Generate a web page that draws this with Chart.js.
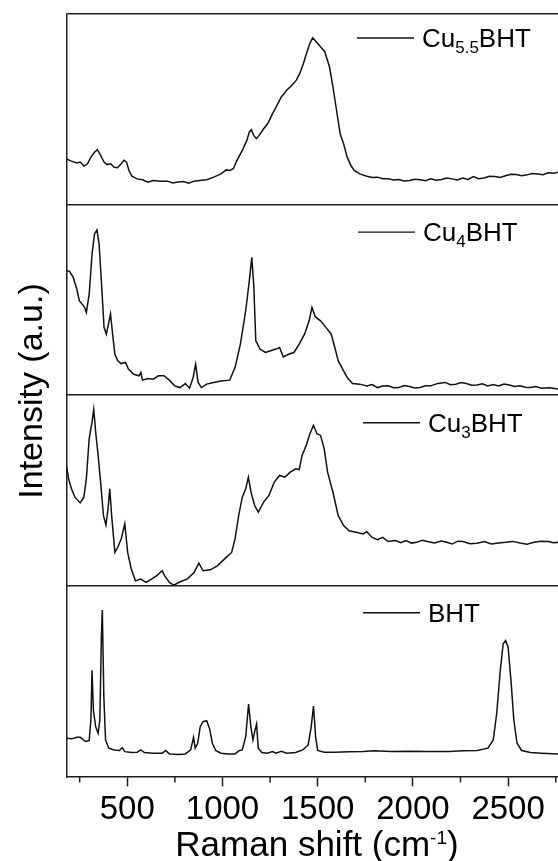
<!DOCTYPE html>
<html>
<head>
<meta charset="utf-8">
<script src="https://cdn.jsdelivr.net/npm/chart.js@4/dist/chart.umd.min.js"></script>
<style>
  html, body { margin: 0; padding: 0; background: #fff; overflow: hidden; }
  #wrap { position: relative; width: 558px; height: 861px; }
</style>
</head>
<body>
<div id="wrap"><canvas id="ramanChart"></canvas></div>
<script>
// Raman shift (cm-1) and intensity (a.u., % of panel height)
var xCu55 = [180,206,235,253,272,291,309,328,343,360,378,393,412,431,449,468,483,496,509,524,552,580,608,636,674,711,739,767,795,823,851,879,917,954,992,1020,1038,1057,1076,1104,1128,1141,1152,1164,1178,1193,1216,1238,1263,1291,1309,1337,1365,1388,1406,1425,1444,1459,1474,1492,1515,1537,1562,1580,1599,1618,1636,1655,1674,1692,1721,1758,1786,1814,1842,1870,1898,1926,1954,1982,2010,2038,2066,2094,2122,2150,2178,2206,2234,2262,2290,2318,2346,2374,2402,2430,2458,2486,2514,2543,2571,2599,2627,2655,2683,2711,2739,2764];
var yCu55 = [24,22.8,21.9,22.3,20.2,21.4,24.9,27.5,28.8,25.8,22.3,21,21.4,19.6,19.3,21.4,23.2,22.3,17.9,14.9,13.5,13,11.8,12.6,12.3,12.3,11.4,11.8,12.1,11.2,12.3,12.6,13,14.4,16.1,18.2,17.9,18.8,23.2,28.4,33.7,38.1,39.3,36.3,34.6,36.3,39.8,42.5,47.7,53,56.5,60,62.6,65.3,68.8,74,80.2,84.6,87.5,85.4,82.8,80.2,72.3,61.8,49.5,37.2,31.9,24.9,20.5,17.9,16.1,14.9,14.2,14.4,13.6,13.5,12.9,13.2,12.4,12.6,13.3,13,12.5,13.5,12.8,13.2,14,13.5,12.9,13.9,13.2,14.7,13.6,14,14.9,14.7,14.2,15.1,15.9,15.8,15.2,15.6,16.3,16.1,15.7,16.7,16.4,17];

var xCu4 = [180,197,216,235,248,263,276,285,300,315,328,341,352,365,378,390,401,412,423,435,450,468,491,506,534,562,571,580,608,636,664,693,721,749,777,805,827,846,859,872,889,917,954,992,1038,1066,1094,1122,1141,1154,1164,1175,1197,1225,1253,1281,1300,1319,1347,1375,1403,1431,1455,1470,1487,1515,1543,1571,1590,1608,1636,1655,1683,1721,1758,1786,1814,1842,1870,1898,1926,1954,1982,2010,2038,2066,2094,2131,2169,2197,2225,2253,2281,2309,2337,2365,2393,2421,2450,2478,2506,2534,2562,2590,2618,2646,2674,2719,2764];
var yCu4 = [65.3,65,61.8,55.7,49.6,47.8,46.1,43.4,53,74.1,84.6,86.7,79.3,58.3,35.6,32,37.3,42.6,32,21.5,18,16.6,17.2,13.7,11,10.2,11.9,7.9,8.8,8.4,10.2,10.2,7.9,4.9,4,6.1,3.7,9.3,16.3,6.7,4,5.8,6.7,7.5,7.9,14.5,26.8,44.3,60.1,72.3,58.3,28.5,24.2,22.4,23.3,24.2,25,20.1,21.5,22.4,26.8,32,39,46.1,41.2,39,35.6,32,25,18,12.8,9.3,6.1,5.8,4.9,5.6,4,4.8,4.9,3.9,4,5.1,4.6,3.8,4,4.9,4.9,6.2,6.7,5.5,5.8,6.6,6.1,5.2,5.4,6,4.9,5.6,4.9,5.9,5.3,4.6,4.9,4.2,4,4.6,3.7,3.9,3.2];

var xCu3 = [180,192,207,225,253,272,285,300,315,324,334,347,360,375,388,399,408,418,435,450,468,487,502,521,543,571,599,627,655,683,696,721,745,777,814,851,876,898,936,973,1010,1048,1066,1085,1104,1122,1136,1150,1169,1188,1216,1244,1272,1300,1328,1356,1384,1403,1418,1440,1459,1478,1496,1515,1534,1552,1580,1608,1636,1665,1702,1739,1758,1786,1814,1842,1870,1908,1936,1964,1992,2020,2048,2076,2113,2150,2178,2207,2235,2263,2300,2337,2375,2412,2450,2487,2525,2562,2599,2636,2674,2711,2739,2764];
var yCu3 = [63.2,56.1,50.9,46.5,43.5,46.5,56.1,77.2,86,92.6,80.7,68.4,54.4,36.8,31.9,40.4,50.9,36.8,17.5,20.2,24.6,32.5,17.5,8.8,2.6,3.5,1.8,3.5,5.3,7.9,5.3,1.8,0.4,2.1,3.5,7,11.9,7.9,8.4,10.5,14,17.5,24.6,36.8,46.5,50.9,57,49.1,42.1,38.6,43.9,47.4,54.4,57.9,57,59.6,61.4,61,68.4,73.7,79.8,84.2,79.8,78.9,71.9,59.6,49.1,36.8,31.6,28.9,28.1,27.2,28.4,25.4,24.2,25.4,23.2,23.7,22.6,23.7,22.4,22.8,23.9,23.2,22.5,23.5,22.8,21.9,23.4,23.2,22.1,22.3,23.2,21.9,22.4,22.8,23.3,22.5,21.8,22.8,23.4,23.2,22.6,22.8];

var xBHT = [180,207,235,253,281,300,309,315,322,334,347,356,364,369,377,386,403,431,459,474,487,524,552,571,590,636,683,702,721,767,805,833,848,857,870,883,898,917,932,947,964,992,1029,1066,1089,1104,1122,1137,1149,1160,1169,1179,1188,1207,1235,1263,1281,1309,1337,1384,1422,1450,1466,1478,1489,1500,1534,1590,1665,1739,1795,1889,1982,2076,2189,2263,2337,2394,2422,2440,2459,2474,2487,2500,2515,2530,2547,2571,2618,2674,2764];
var yBHT = [20,19.7,20.5,20.5,18.3,18.8,29.6,55.7,34.8,26.1,22.6,29.6,73,87.3,41.7,19.1,14.8,13.9,13.6,15.1,13,12.5,12.7,13.9,12.5,12.2,12.2,13.6,11.8,11.5,11.8,13.9,20.5,14.8,17.4,26.1,28.7,29.2,25.2,17.4,13.6,12.2,11.8,11.8,13.6,13.9,20.9,37.9,26.1,19.1,23.5,27.5,14.8,12.5,12.2,13,12.2,13.2,12.2,12.5,13.9,16.5,26.1,36.9,20.9,13.6,12.7,12.7,12.9,13,13.4,13,13.2,13,13,13.4,13.6,14.8,19.1,33,55.7,69.6,71.3,67.8,50.4,29.6,17.4,13.6,12.5,12.2,11.8];

// legend labels: [text, isSubscript]
var sampleNames = [
  [['Cu', false], ['5.5', true], ['BHT', false]],
  [['Cu', false], ['4', true], ['BHT', false]],
  [['Cu', false], ['3', true], ['BHT', false]],
  [['BHT', false]]
];

var majorTicks = [500, 1000, 1500, 2000, 2500];
var minorTicks = [250, 750, 1250, 1750, 2250, 2750];

var FONT = '"Liberation Sans", Arial, sans-serif';
var INK = '#111';
var FRAME = '#1e1e1e';

function toPoints(xs, ys) {
  return xs.map(function(x, i) { return { x: x, y: ys[i] }; });
}

var series = [
  { x: xCu55, y: yCu55 },
  { x: xCu4, y: yCu4 },
  { x: xCu3, y: yCu3 },
  { x: xBHT, y: yBHT }
];

// legend placement per panel (px from left / from panel top)
var legendLeft = [357, 358, 363, 363];
var legendDrop = [24, 27.5, 27.5, 27];

var datasets = series.map(function(s, i) {
  return {
    label: 'p' + i,
    data: toPoints(s.x, s.y),
    yAxisID: 'y' + i,
    borderColor: INK,
    borderWidth: 1.5,
    pointRadius: 0,
    tension: 0,
    fill: false
  };
});

function panelAxis() {
  return {
    type: 'linear',
    position: 'left',
    stack: 'spectra',
    stackWeight: 1,
    min: 0,
    max: 100,
    offset: false,
    afterBuildTicks: function(scale) { scale.ticks = [{ value: scale.max }]; },
    ticks: { display: false },
    grid: { display: true, drawTicks: false, drawOnChartArea: true, color: FRAME, lineWidth: 1.5 },
    border: { display: true, color: FRAME, width: 1.5 }
  };
}

var scales = {
  x: {
    type: 'linear',
    position: 'bottom',
    min: 183.5,
    max: 2762,
    afterBuildTicks: function(scale) {
      scale.ticks = majorTicks.map(function(v) { return { value: v }; });
    },
    ticks: {
      color: '#000',
      font: { family: FONT, size: 33 },
      padding: 4,
      maxRotation: 0,
      autoSkip: false,
      callback: function(v) { return String(v); }
    },
    grid: { display: true, drawOnChartArea: false, drawTicks: true, tickLength: 10, tickColor: FRAME, tickWidth: 1.5 },
    border: { display: true, color: FRAME, width: 1.5 }
  }
};
// stacked axes are laid out bottom-up in the order they are listed
for (var i = 3; i >= 0; i--) scales['y' + i] = panelAxis();

var decorPlugin = {
  id: 'decor',
  afterDraw: function(chart) {
    var ctx = chart.ctx;
    var xs = chart.scales.x;
    var area = chart.chartArea;

    // minor ticks
    ctx.save();
    ctx.strokeStyle = FRAME;
    ctx.lineWidth = 1.5;
    minorTicks.forEach(function(v) {
      var px = xs.getPixelForValue(v);
      if (px < area.left || px > area.right) return;
      ctx.beginPath();
      ctx.moveTo(px, xs.top);
      ctx.lineTo(px, xs.top + 6);
      ctx.stroke();
    });
    ctx.restore();

    // per-panel legends
    ctx.save();
    ctx.fillStyle = '#000';
    ctx.strokeStyle = INK;
    ctx.lineWidth = 1.4;
    ctx.textBaseline = 'alphabetic';
    ctx.textAlign = 'left';
    sampleNames.forEach(function(parts, i) {
      var ys = chart.scales['y' + i];
      var ly = ys.top + legendDrop[i];
      var lx = legendLeft[i];
      ctx.beginPath();
      ctx.moveTo(lx, ly);
      ctx.lineTo(lx + 57, ly);
      ctx.stroke();
      var tx = lx + 65;
      parts.forEach(function(p) {
        if (p[1]) {
          ctx.font = '17px ' + FONT;
          ctx.fillText(p[0], tx, ly + 15);
        } else {
          ctx.font = '26px ' + FONT;
          ctx.fillText(p[0], tx, ly + 9);
        }
        tx += ctx.measureText(p[0]).width;
      });
    });
    ctx.restore();

    // axis titles
    ctx.save();
    ctx.fillStyle = '#000';
    ctx.font = '34px ' + FONT;
    ctx.textBaseline = 'alphabetic';
    ctx.textAlign = 'center';
    ctx.translate(42, 391);
    ctx.rotate(-Math.PI / 2);
    ctx.fillText('Intensity (a.u.)', 0, 0);
    ctx.restore();

    ctx.save();
    ctx.fillStyle = '#000';
    ctx.textBaseline = 'alphabetic';
    ctx.textAlign = 'left';
    var mainA = 'Raman shift (cm', sup = '-1', mainB = ')';
    ctx.font = '35px ' + FONT;
    var wA = ctx.measureText(mainA).width, wB = ctx.measureText(mainB).width;
    ctx.font = '19px ' + FONT;
    var wS = ctx.measureText(sup).width;
    var start = 317 - (wA + wS + wB) / 2;
    var base = 856;
    ctx.font = '35px ' + FONT;
    ctx.fillText(mainA, start, base);
    ctx.font = '19px ' + FONT;
    ctx.fillText(sup, start + wA, base - 12);
    ctx.font = '35px ' + FONT;
    ctx.fillText(mainB, start + wA + wS, base);
    ctx.restore();
  }
};

new Chart(document.getElementById('ramanChart').getContext('2d'), {
  type: 'line',
  data: { datasets: datasets },
  options: {
    responsive: true,
    maintainAspectRatio: false,
    animation: false,
    layout: { padding: { left: 67, top: 14, right: 0, bottom: 27 } },
    plugins: { legend: { display: false }, tooltip: { enabled: false } },
    scales: scales
  },
  plugins: [decorPlugin]
});
</script>
</body>
</html>
